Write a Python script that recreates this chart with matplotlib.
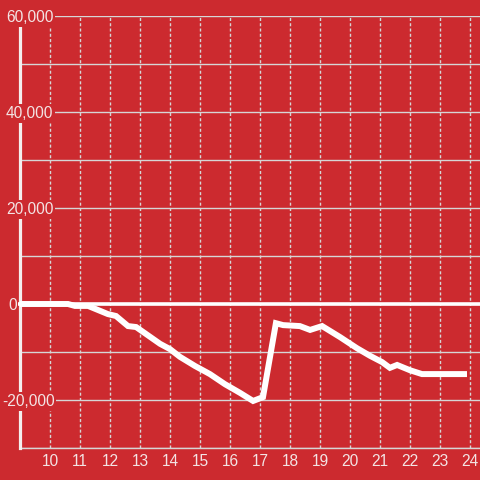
import matplotlib
matplotlib.use("Agg")
import matplotlib.pyplot as plt
from matplotlib.transforms import blended_transform_factory

# ---- data ----
hours = [9.0, 10.6, 10.83, 11.27, 11.93, 12.2, 12.6, 12.87, 13.67, 14.0, 14.33,
         14.83, 15.33, 15.83, 16.33, 16.77, 17.1, 17.53, 17.77, 18.33, 18.67,
         19.07, 19.67, 20.23, 20.67, 21.07, 21.33, 21.57, 22.0, 22.4, 23.9]
values = [0, 0, -400, -400, -2100, -2500, -4600, -4800, -8300, -9400, -11000,
          -12900, -14600, -16700, -18500, -20200, -19400, -4000, -4400, -4600, -5400,
          -4600, -6900, -9200, -10800, -12100, -13300, -12700, -13800, -14600, -14600]
x_ticks = list(range(10, 25))
x_tick_labels = [str(h) for h in x_ticks]
y_label_values = [-20000, 0, 20000, 40000, 60000]
y_label_texts = ["-20,000", "0", "20,000", "40,000", "60,000"]
y_grid = list(range(-30000, 60001, 10000))

BG = "#cc2a2f"
FG = "#f3e4e4"
GRID = "#d6d6d6"

W, H = 480, 480
fig = plt.figure(figsize=(4.8, 4.8), dpi=100, facecolor=BG)
ax = fig.add_axes([20 / W, (H - 448) / H, (W - 20) / W, (448 - 16) / H])
ax.set_facecolor(BG)
ax.set_xlim(9, 9 + 460 / 30)
ax.set_ylim(-30000, 60000)

for s in ("top", "right"):
    ax.spines[s].set_visible(False)
ax.spines["bottom"].set_color(GRID)
ax.spines["bottom"].set_linewidth(1)
ax.spines["left"].set_color("#f4eeee")
ax.spines["left"].set_linewidth(2.3)
ax.spines["left"].set_zorder(3)

ax.set_yticks(y_grid)
ax.set_yticklabels([])
ax.tick_params(axis="y", length=0)
ax.set_xticks(x_ticks)
ax.set_xticklabels(x_tick_labels, fontsize=11.2, color=FG, family="Liberation Sans")
ax.tick_params(axis="x", length=0, pad=4.5)

ax.grid(axis="y", color=GRID, linewidth=1, zorder=1)
ax.grid(axis="x", color=GRID, linewidth=1, linestyle=(0, (2.2, 1.6)), zorder=1)
ax.set_axisbelow(True)

ax.axhline(0, xmin=-3 / 460, xmax=1, color="white", linewidth=2.6, zorder=4,
           clip_on=False, solid_capstyle="butt")
ax.plot(hours, values, color="white", linewidth=4.3, zorder=5,
        solid_capstyle="butt", solid_joinstyle="miter")

tr = blended_transform_factory(fig.transFigure, ax.transData)
label_x = {"-20,000": 2, "0": 8}
for v, t in zip(y_label_values, y_label_texts):
    ax.text(label_x.get(t, 6) / W, v, t, transform=tr, ha="left", va="center_baseline",
            fontsize=11.2, color=FG, family="Liberation Sans", zorder=6,
            bbox=dict(boxstyle="square,pad=0.12", facecolor=BG, edgecolor="none"))

fig.savefig("out.png", dpi=100, facecolor=BG)
